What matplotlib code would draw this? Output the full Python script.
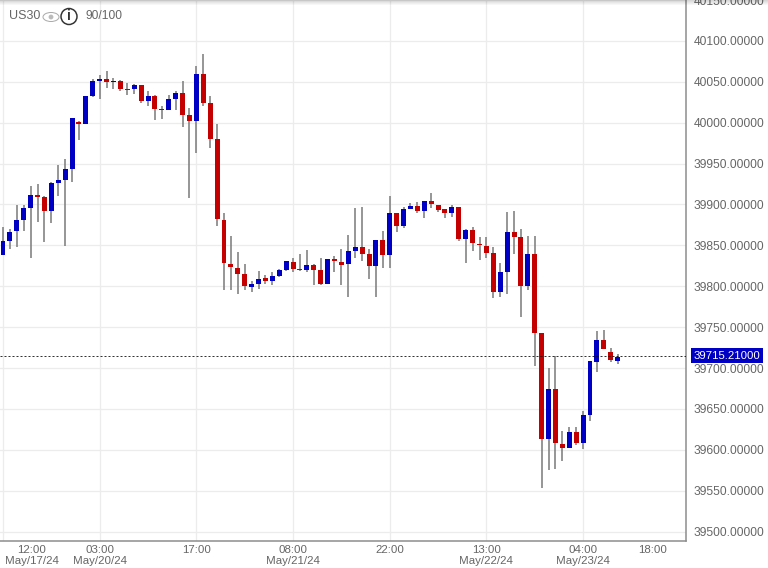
import matplotlib
matplotlib.use("Agg")
import matplotlib.pyplot as plt
import numpy as np
from matplotlib.patches import Circle, Ellipse
from matplotlib.transforms import IdentityTransform

plt.rcParams['font.family'] = ['Liberation Sans', 'DejaVu Sans']

opens = [39838, 39855, 39867, 39881, 39896, 39911, 39909, 39892, 39926, 39930,
         39944, 40001, 39998, 40033, 40051, 40054, 40050, 40051, 40041, 40041,
         40046, 40026, 40033, 40016, 40016, 40029, 40036, 40009, 40002, 40059,
         40024, 39980, 39881, 39827, 39822, 39815, 39799, 39803, 39810, 39807,
         39813, 39820, 39830, 39821, 39820, 39826, 39820, 39803, 39833, 39830,
         39827, 39843, 39848, 39839, 39825, 39857, 39838, 39889, 39874, 39894,
         39898, 39892, 39904, 39899, 39894, 39890, 39897, 39858, 39869, 39852,
         39849, 39841, 39793, 39817, 39866, 39860, 39800, 39839, 39743, 39613,
         39675, 39607, 39602, 39622, 39609, 39643, 39707, 39734, 39720, 39709]
highs = [39872, 39870, 39899, 39899, 39923, 39925, 39910, 39928, 39948, 39956,
         40006, 40002, 40033, 40054, 40058, 40063, 40055, 40052, 40049, 40047,
         40046, 40039, 40034, 40020, 40034, 40039, 40051, 40018, 40069, 40084,
         40033, 39998, 39889, 39861, 39842, 39827, 39806, 39819, 39814, 39818,
         39821, 39831, 39834, 39839, 39844, 39827, 39834, 39833, 39837, 39846,
         39863, 39896, 39897, 39846, 39857, 39867, 39910, 39889, 39897, 39902,
         39903, 39904, 39914, 39899, 39895, 39899, 39897, 39870, 39873, 39860,
         39860, 39848, 39828, 39891, 39892, 39870, 39861, 39861, 39743, 39700,
         39715, 39623, 39628, 39628, 39648, 39709, 39745, 39747, 39724, 39717]
lows = [39838, 39846, 39848, 39867, 39835, 39879, 39854, 39877, 39910, 39849,
        39927, 39979, 39998, 40032, 40029, 40043, 40041, 40039, 40034, 40035,
        40024, 40020, 40003, 40005, 40015, 40016, 39995, 39908, 39963, 40020,
        39969, 39874, 39795, 39796, 39790, 39795, 39793, 39797, 39803, 39802,
        39811, 39819, 39818, 39819, 39818, 39802, 39802, 39803, 39817, 39801,
        39787, 39835, 39831, 39809, 39787, 39822, 39822, 39866, 39871, 39894,
        39890, 39883, 39896, 39891, 39884, 39885, 39855, 39829, 39843, 39832,
        39835, 39786, 39787, 39791, 39839, 39762, 39795, 39703, 39554, 39575,
        39577, 39586, 39602, 39606, 39601, 39635, 39695, 39723, 39707, 39705]
closes = [39855, 39866, 39881, 39896, 39911, 39909, 39892, 39926, 39930, 39944,
          40006, 39998, 40033, 40051, 40054, 40050, 40051, 40041, 40040, 40046,
          40026, 40033, 40017, 40016, 40029, 40036, 40009, 40002, 40059, 40024,
          39980, 39882, 39828, 39823, 39815, 39800, 39803, 39809, 39807, 39812,
          39820, 39831, 39821, 39820, 39826, 39820, 39803, 39833, 39831, 39826,
          39843, 39848, 39839, 39825, 39857, 39838, 39889, 39874, 39894, 39898,
          39892, 39904, 39900, 39893, 39890, 39897, 39858, 39869, 39853, 39850,
          39841, 39793, 39817, 39866, 39860, 39800, 39839, 39743, 39613, 39675,
          39608, 39602, 39622, 39609, 39643, 39709, 39734, 39723, 39710, 39714]

grid_positions = [0, 14, 28, 42, 56, 70, 84]
time_positions = [4.2, 14, 28, 42, 56, 70, 84, 94]
time_labels = ['12:00', '03:00', '17:00', '08:00', '22:00', '13:00', '04:00', '18:00']
date_labels = ['May/17/24', 'May/20/24', '', 'May/21/24', '', 'May/22/24', 'May/23/24', '']
price_ticks = list(range(39500, 40151, 50))
last_price = 39715.21

BLUE = '#0000c4'
RED = '#c40000'
TEXT = '#666666'
AXIS = '#8a8a8a'
H = 568
PX = 72 / 100  # points per pixel at dpi 100


def pixel_text(x, y, s, **kw):
    fig.text(x / 768, 1 - y / H, s, va='center', **kw)


fig = plt.figure(figsize=(7.68, 5.68), dpi=100)
ax = fig.add_axes([0, 1 - 541 / H, 686 / 768, 541 / H])
ax.set_xlim(-0.434, 98.9)
ax.set_ylim(39488.6, 40150)

ax.set_xticks(grid_positions)
ax.set_xticklabels([])
ax.set_yticks(price_ticks)
ax.set_yticklabels([f'{p:.5f}' for p in price_ticks], fontsize=12 * PX, color=TEXT)
ax.yaxis.tick_right()
ax.tick_params(axis='both', length=0)
ax.tick_params(axis='y', pad=8 * PX)
ax.grid(True, color='#ececec', lw=1.3 * PX)
ax.set_axisbelow(True)
for side in ['top', 'left']:
    ax.spines[side].set_visible(False)
for side in ['right', 'bottom']:
    ax.spines[side].set_color(AXIS)
    ax.spines[side].set_linewidth(1.5 * PX)

idx = np.arange(len(opens))
o = np.array(opens)
c = np.array(closes)
colors = [BLUE if b > a else (RED if b < a else '#333333') for a, b in zip(opens, closes)]
ax.vlines(idx, lows, highs, color='#777777', lw=1.5 * PX, zorder=3)
ax.bar(idx, np.maximum(np.abs(c - o), 1.0), bottom=np.minimum(o, c), width=0.72,
       color=colors, linewidth=0, zorder=4)

ax.axhline(last_price, color='black', lw=0.8 * PX, dashes=(2.5, 2.5), zorder=5)
ax.text(693.5 / 686, last_price, f'{last_price:.5f}', transform=ax.get_yaxis_transform(),
        color='white', fontsize=11.4 * PX, va='center', ha='left', zorder=10, clip_on=False,
        bbox=dict(boxstyle='square,pad=0.25', fc=BLUE, ec='none'))

for pos, t, d in zip(time_positions, time_labels, date_labels):
    ax.annotate(t, (pos, 0), xycoords=ax.get_xaxis_transform(), xytext=(0, -9 * PX),
                textcoords='offset points', ha='center', va='center',
                fontsize=11.5 * PX, color=TEXT)
    if d:
        ax.annotate(d, (pos, 0), xycoords=ax.get_xaxis_transform(), xytext=(0, -20.5 * PX),
                    textcoords='offset points', ha='center', va='center',
                    fontsize=11.5 * PX, color=TEXT)

# header: symbol, eye and info icons, score
pixel_text(9, 16, 'US30', fontsize=12.5 * PX, color=TEXT)
pixel_text(86, 16, '90/100', fontsize=12 * PX, color=TEXT)
tr = IdentityTransform()
fig.add_artist(Ellipse((51, H - 17), 16, 9, transform=tr, fc='none', ec='#aaaaaa', lw=1 * PX))
fig.add_artist(Circle((51, H - 17), 2.4, transform=tr, fc='#bbbbbb', ec='none'))
fig.add_artist(Circle((69, H - 16.5), 8, transform=tr, fc='white', ec='#333333', lw=1.5 * PX))
pixel_text(69, 16.5, 'i', fontsize=14 * PX, color='#333333', ha='center', fontweight='bold')

# soft shadow along the top edge
shadow = fig.add_axes([0, 1 - 6 / H, 1, 6 / H], zorder=20)
shadow.axis('off')
grad = np.zeros((6, 1, 4))
grad[:, 0, 3] = np.linspace(0.16, 0, 6)
shadow.imshow(grad, aspect='auto')

fig.savefig('out.png', dpi=100)
